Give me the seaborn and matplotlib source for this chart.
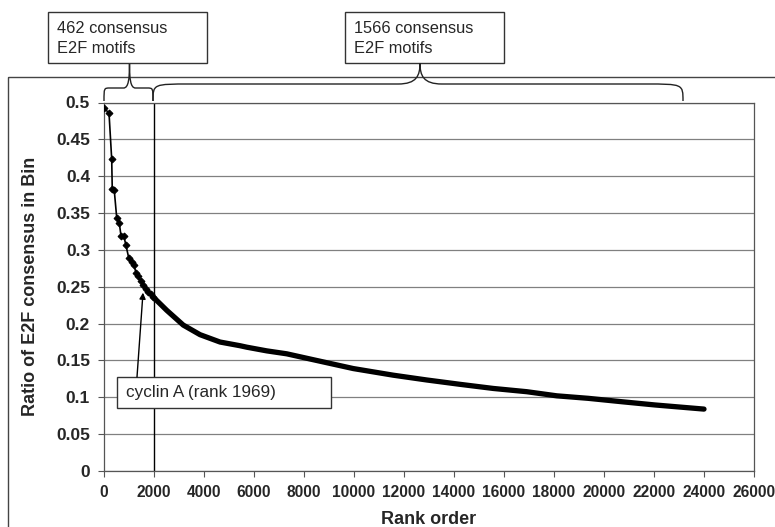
import matplotlib
matplotlib.use("Agg")
import matplotlib.pyplot as plt
import seaborn as sns
import numpy as np
import pandas as pd
from matplotlib.path import Path
from matplotlib.patches import PathPatch, Rectangle

# ---- data ----
early_rank = [0, 200, 308, 330, 410, 510, 610, 680, 790, 880, 990, 1110, 1200,
              1280, 1370, 1470, 1570, 1670, 1770, 1870, 1970]
early_ratio = [0.492, 0.486, 0.423, 0.383, 0.381, 0.343, 0.337, 0.319, 0.319,
               0.306, 0.289, 0.284, 0.279, 0.269, 0.264, 0.258, 0.252, 0.247,
               0.243, 0.240, 0.236]
tail_rank = [1970, 2510, 3170, 3840, 4640, 5440, 5710, 6510, 7310, 8370, 9970,
             11570, 12910, 14240, 15570, 16910, 18110, 19370, 20710, 22040, 24000]
tail_ratio = [0.236, 0.218, 0.198, 0.185, 0.175, 0.170, 0.168, 0.163, 0.159,
              0.151, 0.139, 0.130, 0.1235, 0.1176, 0.112, 0.1076, 0.102, 0.0986,
              0.094, 0.0896, 0.084]
x_ticks = list(range(0, 26001, 2000))
y_ticks = [0, 0.05, 0.1, 0.15, 0.2, 0.25, 0.3, 0.35, 0.4, 0.45, 0.5]
y_tick_labels = ["0", "0.05", "0.1", "0.15", "0.2", "0.25", "0.3", "0.35", "0.4", "0.45", "0.5"]
split_rank = 2000
label_left = "462 consensus\nE2F motifs"
label_right = "1566 consensus\nE2F motifs"
cyclin_label = "cyclin A (rank 1969)"
cyclin_point = (1560, 0.242)

sns.set_style("white")
plt.rcParams["font.family"] = ["Liberation Sans", "DejaVu Sans"]

W, H = 775, 527
fig = plt.figure(figsize=(W / 100, H / 100), dpi=100)
ax = fig.add_axes([104 / W, 1 - 471 / H, (754 - 104) / W, (471 - 102.5) / H])

df_early = pd.DataFrame({"rank": early_rank, "ratio": early_ratio})
df_tail = pd.DataFrame({"rank": tail_rank, "ratio": tail_ratio})
sns.lineplot(data=df_tail, x="rank", y="ratio", ax=ax, color="black", lw=3.8,
             solid_capstyle="round", solid_joinstyle="round", zorder=3)
sns.lineplot(data=df_early, x="rank", y="ratio", ax=ax, color="black", lw=1.2,
             marker="D", markersize=3.5, markeredgecolor="black", zorder=4)

ax.set_xlim(0, 26000)
ax.set_ylim(0, 0.5)
ax.set_xticks(x_ticks)
ax.set_xticklabels([str(t) for t in x_ticks])
ax.set_yticks(y_ticks)
ax.set_yticklabels(y_tick_labels)
for lab in ax.get_xticklabels() + ax.get_yticklabels():
    lab.set_fontweight("bold")
ax.tick_params(axis="both", direction="out", length=4, width=0.8,
               color="#555555", pad=6)
ax.tick_params(axis="x", bottom=True, labelsize=11.2)
ax.tick_params(axis="y", left=True, labelsize=12.5)
ax.yaxis.grid(True, color="#808080", lw=0.9)
ax.xaxis.grid(False)
for s in ax.spines.values():
    s.set_color("#555555")
    s.set_linewidth(0.9)
ax.set_xlabel("Rank order", fontsize=13, fontweight="bold", labelpad=8)
ax.set_ylabel("Ratio of E2F consensus in Bin", fontsize=13, fontweight="bold", labelpad=12)
ax.axvline(split_rank, color="black", lw=1.0, zorder=2)

# ---- overlay in pixel coordinates for annotations ----
ov = fig.add_axes([0, 0, 1, 1], zorder=5)
ov.set_xlim(0, W)
ov.set_ylim(H, 0)
ov.axis("off")
ov.patch.set_alpha(0)

# outer frame
ov.add_patch(Rectangle((8, 77), 800, 500, fill=False, edgecolor="#444444", lw=1.0))

# text boxes
for (x0, y0, x1, y1, txt) in [(48, 12, 207, 63, label_left), (345, 12, 504, 63, label_right)]:
    ov.add_patch(Rectangle((x0, y0), x1 - x0, y1 - y0, facecolor="white",
                           edgecolor="#333333", lw=1.0))
    ov.text(x0 + 9, (y0 + y1) / 2 + 1, txt, fontsize=11.8, va="center", ha="left",
            linespacing=1.35)


def brace(x0, x1, xt, y_end, y_arm, y_tip, r, r2):
    verts = [(x0, y_end),
             (x0, y_arm), (x0, y_arm), (x0 + r, y_arm),
             (xt - r2, y_arm),
             (xt - r2 * 0.15, y_arm), (xt, y_arm - (y_arm - y_tip) * 0.4), (xt, y_tip),
             (xt, y_arm - (y_arm - y_tip) * 0.4), (xt + r2 * 0.15, y_arm), (xt + r2, y_arm),
             (x1 - r, y_arm),
             (x1, y_arm), (x1, y_arm), (x1, y_end)]
    codes = [Path.MOVETO,
             Path.CURVE4, Path.CURVE4, Path.CURVE4,
             Path.LINETO,
             Path.CURVE4, Path.CURVE4, Path.CURVE4,
             Path.CURVE4, Path.CURVE4, Path.CURVE4,
             Path.LINETO,
             Path.CURVE4, Path.CURVE4, Path.CURVE4]
    ov.add_patch(PathPatch(Path(verts, codes), fill=False, edgecolor="#222222", lw=1.0))


brace(104, 153, 129.5, 101, 88, 64, 6, 6)
brace(153, 683, 420, 101, 84, 63, 38, 22)

# cyclin A label box and arrow
ov.add_patch(Rectangle((117, 377), 214, 31, facecolor="white", edgecolor="#333333", lw=1.0))
ov.text(126, 393, cyclin_label, fontsize=12.3, va="center", ha="left")
cx, cy = ax.transData.transform(cyclin_point)
ov.annotate("", xy=(cx, H - cy), xytext=(137, 377),
            arrowprops=dict(arrowstyle="-|>", color="black", lw=1.0,
                            mutation_scale=9, shrinkA=0, shrinkB=0))

fig.savefig("out.png", dpi=100)
